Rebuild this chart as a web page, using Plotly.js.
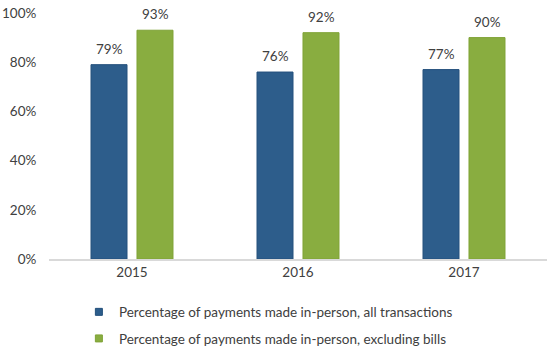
<!DOCTYPE html>
<html>
<head>
<meta charset="utf-8">
<script src="https://cdn.plot.ly/plotly-3.0.1.min.js"></script>
<style>html,body{margin:0;padding:0;background:#fff;}#chart{width:550px;height:351px;}</style>
</head>
<body>
<div id="chart"></div>
<script>
var years = ['2015', '2016', '2017'];
var allTransactions = [0.79, 0.76, 0.77];
var excludingBills = [0.93, 0.92, 0.90];
var seriesNames = ['Percentage of payments made in-person, all transactions',
                   'Percentage of payments made in-person, excluding bills'];
var colors = ['#2D5D8B', '#89AD40'];
var lineColors = ['#24507C', '#7FA336'];

var FONT = 'Lato, "Open Sans", sans-serif';
var TXT = '#404040';

var series = [allTransactions, excludingBills];
var traces = [];
series.forEach(function (vals, i) {
  traces.push({
    type: 'bar', x: years, y: vals, name: seriesNames[i], showlegend: false,
    marker: {color: colors[i], line: {color: lineColors[i], width: 1}},
    hoverinfo: 'y'
  });
});
series.forEach(function (vals, i) {
  traces.push({
    type: 'scatter', mode: 'markers', x: [years[0]], y: [null], name: seriesNames[i],
    legendgroup: 'g' + i,
    marker: {symbol: 'square', size: 7, color: colors[i], line: {color: lineColors[i], width: 1}}
  });
});

var annotations = [];
var shifts = [-23, 23];
series.forEach(function (vals, i) {
  vals.forEach(function (v, j) {
    annotations.push({
      x: j, y: v, xref: 'x', yref: 'y', text: Math.round(v * 100) + '%',
      showarrow: false, xshift: shifts[i], yshift: 6, yanchor: 'bottom',
      font: {family: FONT, size: 13.5, color: TXT}
    });
  });
});

var layout = {
  width: 550, height: 351,
  margin: {l: 49, r: 3, t: 13, b: 92, autoexpand: false},
  paper_bgcolor: '#fff', plot_bgcolor: '#fff',
  barmode: 'group', bargap: 0.446, bargroupgap: 0.217,
  font: {family: FONT, size: 13.5, color: TXT},
  xaxis: {type: 'category', categoryorder: 'array', categoryarray: years,
          range: [-0.5, years.length - 0.5],
          showline: true, linecolor: '#D9D9D9', linewidth: 1.5,
          ticks: '', showgrid: false, zeroline: false,
          tickfont: {family: FONT, size: 13.5, color: TXT}},
  yaxis: {range: [0, 1], dtick: 0.2, tickformat: '.0%', showgrid: false,
          zeroline: false, showline: false, ticks: 'outside', ticklen: 9,
          tickcolor: 'rgba(0,0,0,0)',
          tickfont: {family: FONT, size: 13.5, color: TXT}},
  showlegend: true,
  legend: {orientation: 'v', x: 0.06, xanchor: 'left', yref: 'container', y: 0.155, yanchor: 'top',
           traceorder: 'grouped', tracegroupgap: 6, itemwidth: 30,
           font: {family: FONT, size: 13.5, color: TXT}, bgcolor: 'rgba(0,0,0,0)'},
  annotations: annotations
};

Plotly.newPlot('chart', traces, layout, {displayModeBar: false, staticPlot: true});
</script>
</body>
</html>
